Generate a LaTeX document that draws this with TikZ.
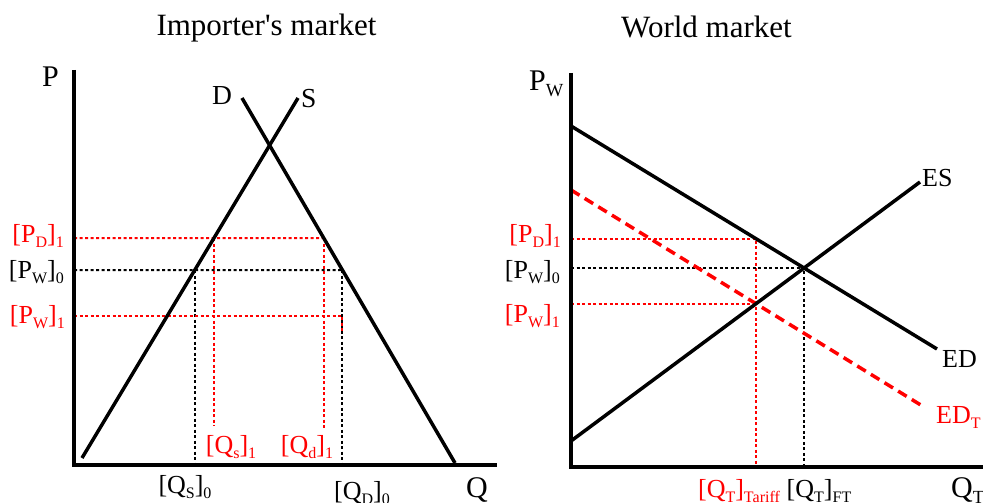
\documentclass[tikz,border=0pt]{standalone}
\usepackage{fontspec}
\setmainfont{Liberation Serif}[Ligatures=TeXOff]
\usetikzlibrary{calc}
\newcommand\lab{\fontsize{26}{30}\selectfont}
\newcommand\axlab{\fontsize{30}{34}\selectfont}
\newcommand\cvlab{\fontsize{27.5}{32}\selectfont}
\newcommand\ttlfont{\fontsize{31}{36}\selectfont}
\newcommand\sbs[1]{\raisebox{-0.22em}{\fontsize{16}{16}\selectfont #1}}
\newcommand\sbx[1]{\raisebox{-0.22em}{\fontsize{18.5}{18.5}\selectfont #1}}
\begin{document}
\begin{tikzpicture}[x=1pt,y=-1pt,
 axis/.style={line width=4pt,line join=miter},
 curve/.style={line width=3.5pt},
 rdot/.style={red,line width=2pt,dash pattern=on 3pt off 2.5pt},
 bdot/.style={black,line width=2pt,dash pattern=on 3pt off 2.5pt},
 rdash/.style={red,line width=3.5pt,dash pattern=on 10pt off 6pt},
 lbl/.style={font=\lab,inner sep=0pt},
 axl/.style={font=\axlab,inner sep=0pt},
 cvl/.style={font=\cvlab,inner sep=0pt},
 ttl/.style={font=\ttlfont,inner sep=0pt}]
\useasboundingbox (0,0) rectangle (983,503);

% titles
\node[ttl,anchor=base] (t1) at (266.5,36) {Importer's market};
\node[ttl,anchor=base] (t2) at (706.5,38) {World market};

% ---------- left panel ----------
\coordinate (o1) at (74,465); \coordinate (y1) at (74,70); \coordinate (x1) at (497,465);
\coordinate (s0) at (82,458); \coordinate (s1) at (298,98);
\coordinate (d0) at (242,98); \coordinate (d1) at (455,463);
\coordinate (hpd) at (74,238); \coordinate (hpdr) at (500,238);
\coordinate (hpw0) at (74,270); \coordinate (hpw0r) at (500,270);
\coordinate (hpw1) at (74,316);
\coordinate (spd) at (intersection of s0--s1 and hpd--hpdr);
\coordinate (dpd) at (intersection of d0--d1 and hpd--hpdr);
\coordinate (spw) at (intersection of s0--s1 and hpw0--hpw0r);
\coordinate (dpw) at (intersection of d0--d1 and hpw0--hpw0r);

\draw[rdot] (hpd) -- (dpd);
\draw[rdot] (spd) -- (spd |- 0,426);
\draw[rdot] (dpd) -- (dpd |- 0,430);
\draw[bdot] (hpw0) -- (dpw);
\draw[bdot] (spw) -- (spw |- o1);
\draw[bdot] (dpw) -- (dpw |- o1);
\draw[rdot] (hpw1) -- (hpw1 -| dpw) -- ($(hpw1 -| dpw)+(0,17)$);

\draw[curve] (s0) -- (s1);
\draw[curve] (d0) -- (d1);
\draw[axis] (y1) -- (o1) -- (x1);

\node[axl,anchor=base west] (lp) at (42,87) {P};
\node[cvl,anchor=base west] (ld) at (212,104) {D};
\node[cvl,anchor=base west] (ls) at (301,107) {S};
\node[lbl,red,anchor=base east] (lpd) at (64,242) {[P\sbs{D}]\sbs{1}};
\node[lbl,anchor=base east] (lpw0) at (64,278) {[P\sbs{W}]\sbs{0}};
\node[lbl,red,anchor=base east] (lpw1) at (65,323) {[P\sbs{W}]\sbs{1}};
\node[lbl,red,anchor=base] (lqs1) at (231,453) {[Q\sbs{s}]\sbs{1}};
\node[lbl,red,anchor=base] (lqd1) at (307,453) {[Q\sbs{d}]\sbs{1}};
\node[lbl,anchor=base] (lqs0) at (185,493) {[Q\sbs{S}]\sbs{0}};
\node[lbl,anchor=base] (lqd0) at (362,499) {[Q\sbs{D}]\sbs{0}};
\node[axl,anchor=base west] (lq) at (466,497) {Q};

% ---------- right panel ----------
\coordinate (o2) at (571,467); \coordinate (y2) at (571,73); \coordinate (x2) at (983,467);
\coordinate (ed0) at (571,126); \coordinate (ed1) at (937,349);
\coordinate (es0) at (571,441); \coordinate (es1) at (920,182);
\coordinate (edt0) at (571,190); \coordinate (edt1) at (924,407);
\coordinate (eq) at (intersection of ed0--ed1 and es0--es1);
\coordinate (tq) at (intersection of edt0--edt1 and es0--es1);
\coordinate (tqt) at (tq |- 0,100);
\coordinate (tpd) at (intersection of ed0--ed1 and tq--tqt);

\draw[rdot] (y2 |- tpd) -- (tpd) -- (tpd |- o2);
\draw[rdot] (y2 |- tq) -- (tq);
\draw[bdot] (y2 |- eq) -- (eq) -- (eq |- o2);

\draw[rdash] (edt0) -- (edt1);
\draw[curve] (ed0) -- (ed1);
\draw[curve] (es0) -- (es1);
\draw[axis] (y2) -- (o2) -- (x2);

\node[axl,anchor=base west] (rpw) at (529,90) {P\sbx{W}};
\node[lbl,anchor=base west] (res) at (922,186) {ES};
\node[lbl,anchor=base west] (red) at (942,367) {ED};
\node[lbl,red,anchor=base west] (redt) at (936,423) {ED\sbs{T}};
\node[lbl,red,anchor=base east] (rpd) at (561,242) {[P\sbs{D}]\sbs{1}};
\node[lbl,anchor=base east] (rpw0) at (560,278) {[P\sbs{W}]\sbs{0}};
\node[lbl,red,anchor=base east] (rpw1) at (560,322) {[P\sbs{W}]\sbs{1}};
\node[lbl,red,anchor=base] (rqt) at (739,497) {[Q\sbs{T}]\sbs{Tariff}};
\node[lbl,anchor=base] (rqft) at (819,497) {[Q\sbs{T}]\sbs{FT}};
\node[axl,anchor=base west] (rq) at (951,497) {Q\sbx{T}};
\end{tikzpicture}
\end{document}
